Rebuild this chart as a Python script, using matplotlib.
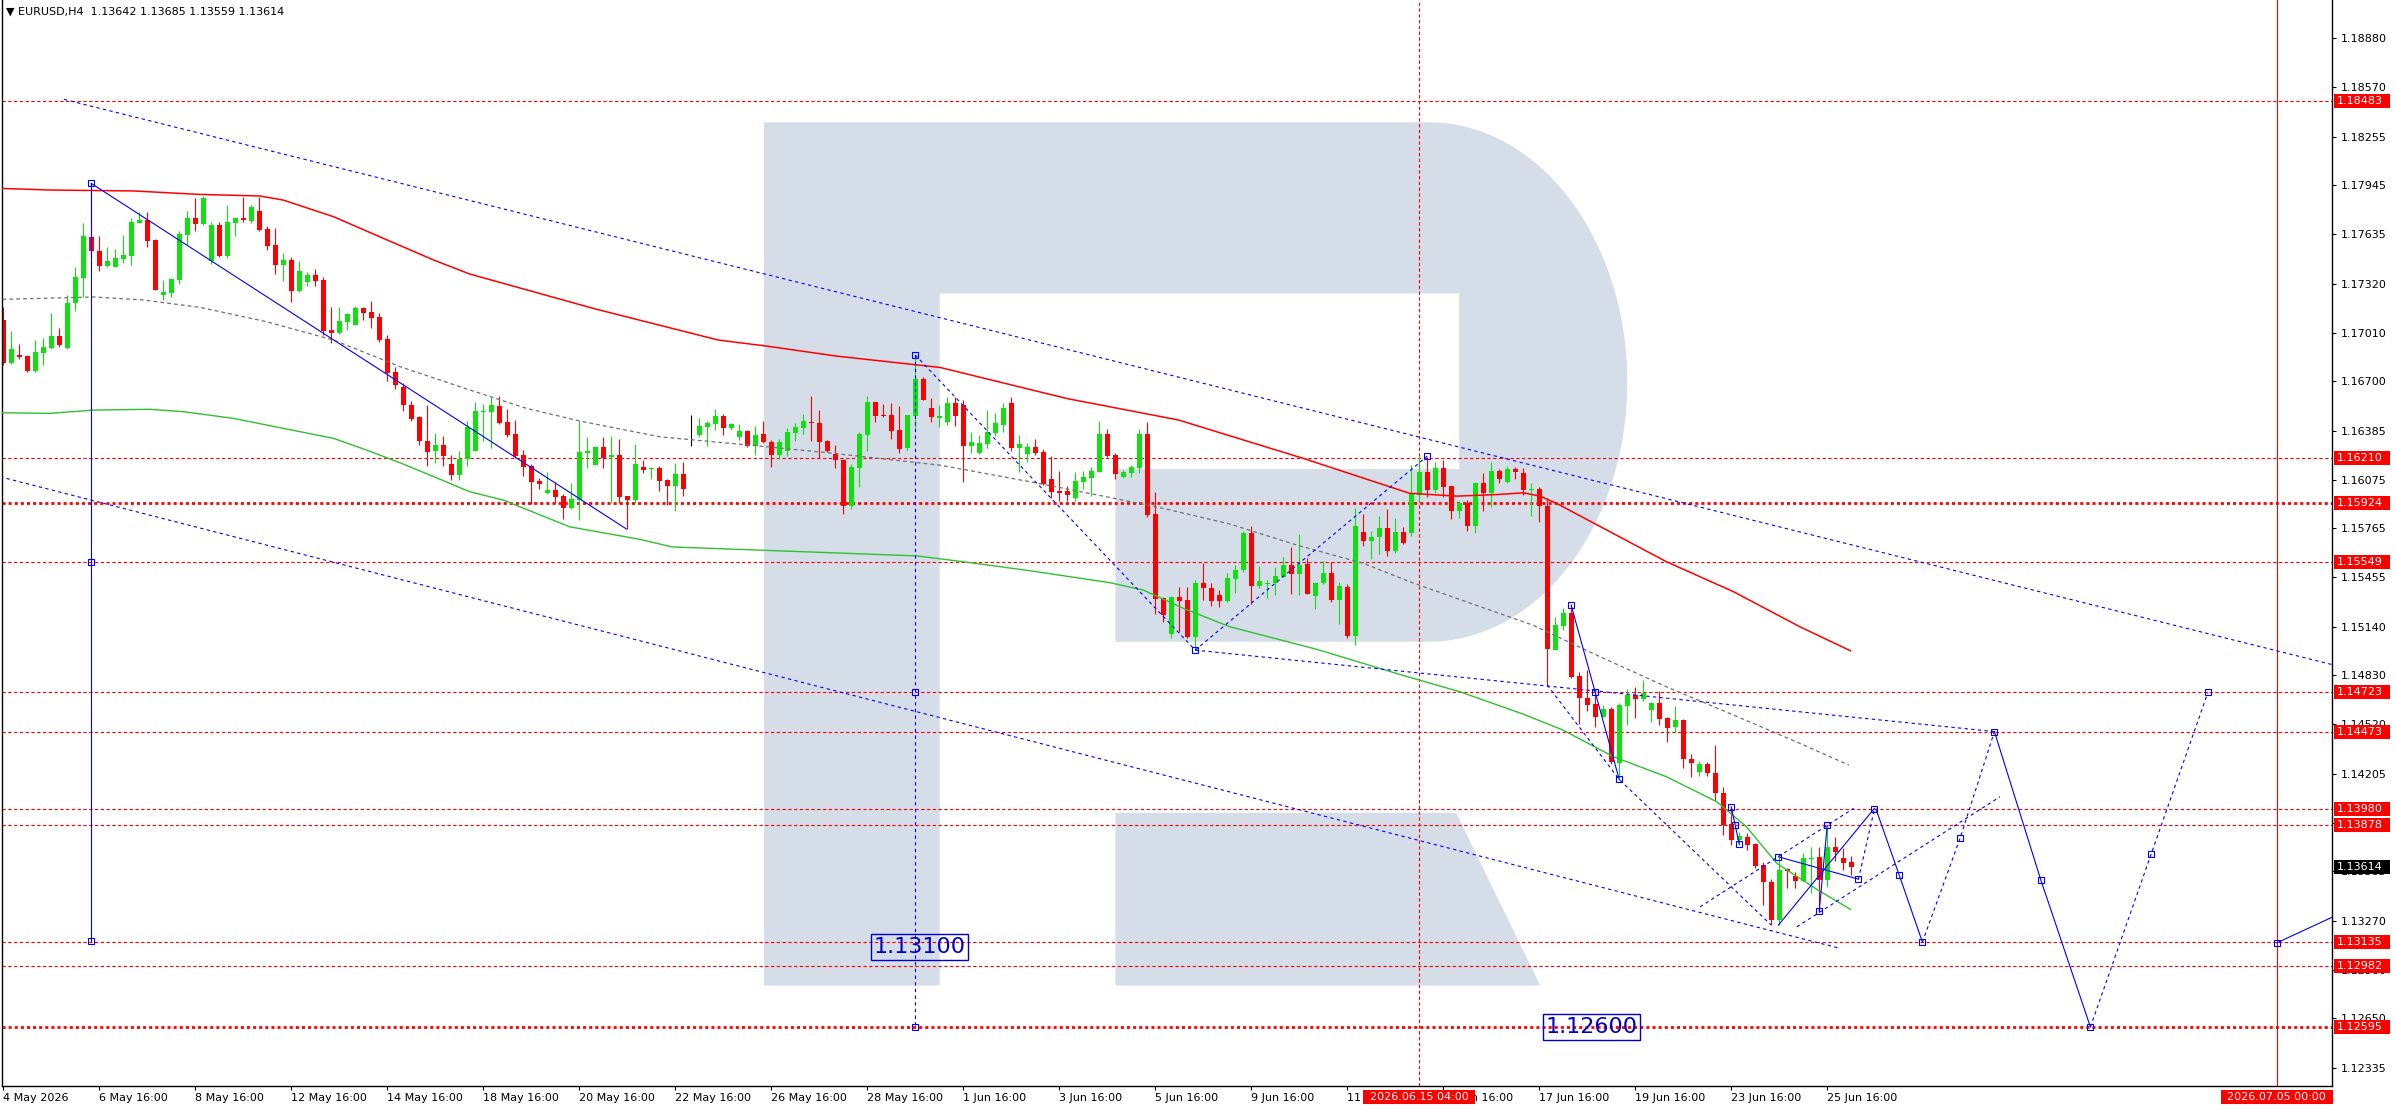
import matplotlib
matplotlib.use('Agg')
import matplotlib.pyplot as plt
import matplotlib.transforms as mtransforms
from matplotlib.patches import Rectangle, Polygon
import numpy as np

plt.rcParams['font.family'] = ['DejaVu Sans']

# EURUSD H4 candles, bar index 0 = 4 May 2026 00:00, first visible bar = 4
first_bar = 4
opens = [1.17089, 1.16818, 1.16867, 1.16861, 1.16767, 1.16882, 1.16914, 1.16988, 1.16914, 1.17195,
         1.17359, 1.17615, 1.17528, 1.17435, 1.17428, 1.17477, 1.17496, 1.17708, 1.17725, 1.17598,
         1.17250, 1.17263, 1.17346, 1.17632, 1.17736, 1.17702, 1.17467, 1.17693, 1.17498, 1.17708,
         1.17736, 1.17721, 1.17780, 1.17666, 1.17564, 1.17441, 1.17471, 1.17276, 1.17333, 1.17373,
         1.17344, 1.17024, 1.17005, 1.17079, 1.17058, 1.17166, 1.17138, 1.17106, 1.16969, 1.16757,
         1.16661, 1.16547, 1.16471, 1.16322, 1.16257, 1.16293, 1.16172, 1.16106, 1.16204, 1.16259,
         1.16504, 1.16506, 1.16542, 1.16441, 1.16364, 1.16229, 1.16163, 1.16066, 1.15992, 1.16008,
         1.15970, 1.15896, 1.15945, 1.16246, 1.16167, 1.16280, 1.16216, 1.16231, 1.15970, 1.15945,
         1.16155, 1.16140, 1.16148, 1.16072, 1.16036, 1.16110, 1.16360, 1.16358, 1.16407, 1.16428,
         1.16479, 1.16403, 1.16345, 1.16384, 1.16288, 1.16364, 1.16316, 1.16231, 1.16258, 1.16369,
         1.16405, 1.16441, 1.16434, 1.16320, 1.16237, 1.16199, 1.15909, 1.16150, 1.16358, 1.16568,
         1.16485, 1.16485, 1.16390, 1.16278, 1.16481, 1.16714, 1.16528, 1.16466, 1.16440, 1.16560,
         1.16550, 1.16290, 1.16244, 1.16303, 1.16371, 1.16422, 1.16560, 1.16278, 1.16239, 1.16280,
         1.16250, 1.16076, 1.16002, 1.16002, 1.15960, 1.16061, 1.16087, 1.16125, 1.16364, 1.16231,
         1.16093, 1.16119, 1.16150, 1.16364, 1.15856, 1.15324, 1.15091, 1.15326, 1.15309, 1.15076,
         1.15415, 1.15383, 1.15341, 1.15305, 1.15445, 1.15500, 1.15733, 1.15400, 1.15409, 1.15415,
         1.15458, 1.15532, 1.15477, 1.15538, 1.15337, 1.15417, 1.15479, 1.15309, 1.15394, 1.15083,
         1.15739, 1.15686, 1.15708, 1.15767, 1.15621, 1.15739, 1.15737, 1.15976, 1.16123, 1.16008,
         1.16148, 1.16034, 1.15877, 1.15928, 1.15781, 1.16055, 1.15987, 1.16129, 1.16059, 1.16142,
         1.16118, 1.16008, 1.16014, 1.15909, 1.14991, 1.15146, 1.15228, 1.14826, 1.14688, 1.14646,
         1.14567, 1.14614, 1.14275, 1.14637, 1.14703, 1.14680, 1.14610, 1.14658, 1.14557, 1.14504,
         1.14544, 1.14302, 1.14218, 1.14266, 1.14211, 1.14080, 1.13885, 1.13787, 1.13800, 1.13758,
         1.13624, 1.13518, 1.13275, 1.13597, 1.13554, 1.13523, 1.13665, 1.13677, 1.13529, 1.13741,
         1.13671, 1.13642]
highs = [1.17174, 1.17017, 1.16937, 1.16867, 1.16962, 1.16975, 1.17132, 1.17039, 1.17246, 1.17426,
         1.17708, 1.17958, 1.17623, 1.17551, 1.17541, 1.17630, 1.17738, 1.17774, 1.17774, 1.17604,
         1.17344, 1.17359, 1.17655, 1.17782, 1.17865, 1.17880, 1.17715, 1.17710, 1.17820, 1.17746,
         1.17873, 1.17820, 1.17873, 1.17687, 1.17672, 1.17513, 1.17492, 1.17465, 1.17397, 1.17416,
         1.17365, 1.17174, 1.17172, 1.17136, 1.17178, 1.17174, 1.17210, 1.17132, 1.16994, 1.16793,
         1.16687, 1.16572, 1.16479, 1.16547, 1.16369, 1.16350, 1.16231, 1.16257, 1.16445, 1.16568,
         1.16555, 1.16598, 1.16606, 1.16523, 1.16453, 1.16263, 1.16172, 1.16083, 1.16121, 1.16061,
         1.15983, 1.16051, 1.16447, 1.16347, 1.16288, 1.16343, 1.16350, 1.16331, 1.15970, 1.16299,
         1.16199, 1.16157, 1.16163, 1.16078, 1.16180, 1.16184, 1.16483, 1.16464, 1.16447, 1.16523,
         1.16494, 1.16434, 1.16428, 1.16390, 1.16415, 1.16449, 1.16326, 1.16331, 1.16403, 1.16432,
         1.16492, 1.16606, 1.16517, 1.16328, 1.16292, 1.16206, 1.16174, 1.16379, 1.16604, 1.16568,
         1.16555, 1.16559, 1.16542, 1.16485, 1.16867, 1.16729, 1.16591, 1.16549, 1.16600, 1.16600,
         1.16580, 1.16377, 1.16356, 1.16517, 1.16500, 1.16560, 1.16600, 1.16356, 1.16309, 1.16335,
         1.16269, 1.16227, 1.16129, 1.16036, 1.16125, 1.16131, 1.16153, 1.16447, 1.16394, 1.16242,
         1.16136, 1.16167, 1.16396, 1.16443, 1.15998, 1.15330, 1.15337, 1.15390, 1.15394, 1.15436,
         1.15547, 1.15415, 1.15373, 1.15479, 1.15532, 1.15750, 1.15780, 1.15525, 1.15436, 1.15521,
         1.15581, 1.15644, 1.15727, 1.15574, 1.15426, 1.15555, 1.15549, 1.15426, 1.15411, 1.15892,
         1.15854, 1.15748, 1.15845, 1.15886, 1.15829, 1.15775, 1.16167, 1.16224, 1.16220, 1.16188,
         1.16199, 1.16034, 1.15938, 1.15945, 1.16061, 1.16118, 1.16188, 1.16140, 1.16161, 1.16152,
         1.16146, 1.16051, 1.16025, 1.15955, 1.15203, 1.15256, 1.15283, 1.14853, 1.14864, 1.14726,
         1.14641, 1.14631, 1.14652, 1.14743, 1.14758, 1.14800, 1.14663, 1.14732, 1.14567, 1.14637,
         1.14550, 1.14330, 1.14285, 1.14281, 1.14387, 1.14122, 1.13995, 1.13832, 1.13830, 1.13762,
         1.13645, 1.13533, 1.13677, 1.13607, 1.13578, 1.13703, 1.13737, 1.13737, 1.13868, 1.13800,
         1.13730, 1.13685]
lows = [1.16803, 1.16810, 1.16844, 1.16759, 1.16757, 1.16806, 1.16907, 1.16916, 1.16905, 1.17149,
        1.17236, 1.17492, 1.17403, 1.17424, 1.17424, 1.17454, 1.17439, 1.17704, 1.17556, 1.17282,
        1.17217, 1.17238, 1.17318, 1.17566, 1.17655, 1.17693, 1.17445, 1.17488, 1.17481, 1.17626,
        1.17715, 1.17704, 1.17655, 1.17534, 1.17384, 1.17340, 1.17206, 1.17265, 1.17308, 1.17308,
        1.16996, 1.16945, 1.17003, 1.17028, 1.17058, 1.17092, 1.17041, 1.16952, 1.16704, 1.16653,
        1.16513, 1.16449, 1.16295, 1.16161, 1.16178, 1.16161, 1.16072, 1.16072, 1.16161, 1.16259,
        1.16322, 1.16278, 1.16428, 1.16347, 1.16210, 1.16100, 1.15917, 1.16015, 1.15983, 1.15924,
        1.15826, 1.15888, 1.15818, 1.16150, 1.16167, 1.16150, 1.15924, 1.15924, 1.15758, 1.15924,
        1.16119, 1.16081, 1.16004, 1.15913, 1.15877, 1.15972, 1.16290, 1.16347, 1.16288, 1.16390,
        1.16358, 1.16390, 1.16326, 1.16284, 1.16231, 1.16305, 1.16157, 1.16206, 1.16225, 1.16322,
        1.16364, 1.16322, 1.16210, 1.16252, 1.16150, 1.15854, 1.15886, 1.16030, 1.16258, 1.16443,
        1.16470, 1.16333, 1.16242, 1.16263, 1.16400, 1.16581, 1.16443, 1.16409, 1.16420, 1.16415,
        1.16061, 1.16246, 1.16239, 1.16278, 1.16354, 1.16379, 1.16259, 1.16125, 1.16189, 1.16231,
        1.16040, 1.15955, 1.15938, 1.15938, 1.15941, 1.16015, 1.15970, 1.16125, 1.16216, 1.16076,
        1.16087, 1.16093, 1.16119, 1.15839, 1.15218, 1.15171, 1.15066, 1.15108, 1.15066, 1.14991,
        1.15309, 1.15271, 1.15263, 1.15299, 1.15356, 1.15489, 1.15282, 1.15388, 1.15324, 1.15341,
        1.15453, 1.15345, 1.15341, 1.15345, 1.15250, 1.15411, 1.15299, 1.15157, 1.15066, 1.15023,
        1.15652, 1.15568, 1.15602, 1.15591, 1.15610, 1.15663, 1.15718, 1.15934, 1.15962, 1.15991,
        1.15962, 1.15824, 1.15834, 1.15750, 1.15737, 1.15875, 1.15902, 1.16055, 1.16051, 1.16076,
        1.15974, 1.15845, 1.15803, 1.14769, 1.14991, 1.15118, 1.14811, 1.14521, 1.14605, 1.14504,
        1.14563, 1.14266, 1.14165, 1.14514, 1.14561, 1.14669, 1.14535, 1.14514, 1.14408, 1.14461,
        1.14243, 1.14186, 1.14192, 1.14192, 1.14031, 1.13815, 1.13751, 1.13751, 1.13720, 1.13603,
        1.13370, 1.13243, 1.13243, 1.13480, 1.13476, 1.13518, 1.13444, 1.13328, 1.13487, 1.13652,
        1.13592, 1.13559]
closes = [1.16818, 1.16905, 1.16856, 1.16767, 1.16884, 1.16918, 1.16988, 1.16933, 1.17195, 1.17363,
          1.17623, 1.17526, 1.17435, 1.17465, 1.17481, 1.17501, 1.17712, 1.17725, 1.17594, 1.17282,
          1.17267, 1.17350, 1.17636, 1.17736, 1.17702, 1.17865, 1.17693, 1.17496, 1.17710, 1.17736,
          1.17725, 1.17806, 1.17664, 1.17562, 1.17441, 1.17471, 1.17276, 1.17399, 1.17373, 1.17340,
          1.17017, 1.17009, 1.17081, 1.17128, 1.17166, 1.17134, 1.17104, 1.16962, 1.16753, 1.16678,
          1.16547, 1.16462, 1.16322, 1.16250, 1.16293, 1.16225, 1.16106, 1.16204, 1.16411, 1.16511,
          1.16511, 1.16549, 1.16437, 1.16358, 1.16225, 1.16157, 1.16061, 1.16047, 1.16006, 1.15966,
          1.15896, 1.15949, 1.16250, 1.16256, 1.16282, 1.16214, 1.16231, 1.15966, 1.15945, 1.16174,
          1.16138, 1.16150, 1.16066, 1.16036, 1.16110, 1.16017, 1.16360, 1.16415, 1.16432, 1.16479,
          1.16405, 1.16428, 1.16384, 1.16288, 1.16358, 1.16316, 1.16231, 1.16314, 1.16377, 1.16407,
          1.16447, 1.16432, 1.16316, 1.16258, 1.16199, 1.15909, 1.16155, 1.16364, 1.16568, 1.16481,
          1.16479, 1.16386, 1.16269, 1.16485, 1.16714, 1.16581, 1.16470, 1.16479, 1.16560, 1.16480,
          1.16290, 1.16314, 1.16305, 1.16377, 1.16432, 1.16530, 1.16278, 1.16301, 1.16284, 1.16246,
          1.16044, 1.15998, 1.15992, 1.15979, 1.16066, 1.16091, 1.16129, 1.16364, 1.16227, 1.16108,
          1.16125, 1.16153, 1.16364, 1.15850, 1.15313, 1.15214, 1.15326, 1.15305, 1.15076, 1.15415,
          1.15383, 1.15305, 1.15305, 1.15449, 1.15500, 1.15733, 1.15400, 1.15430, 1.15417, 1.15462,
          1.15532, 1.15477, 1.15532, 1.15349, 1.15417, 1.15479, 1.15309, 1.15398, 1.15083, 1.15780,
          1.15686, 1.15710, 1.15767, 1.15623, 1.15739, 1.15674, 1.15983, 1.16123, 1.16008, 1.16148,
          1.16029, 1.15877, 1.15928, 1.15781, 1.16055, 1.15987, 1.16129, 1.16082, 1.16142, 1.16121,
          1.16012, 1.16014, 1.15909, 1.14997, 1.15150, 1.15228, 1.14817, 1.14688, 1.14641, 1.14567,
          1.14614, 1.14281, 1.14641, 1.14703, 1.14682, 1.14716, 1.14658, 1.14555, 1.14497, 1.14544,
          1.14302, 1.14271, 1.14266, 1.14207, 1.14080, 1.13879, 1.13783, 1.13809, 1.13751, 1.13618,
          1.13518, 1.13275, 1.13592, 1.13588, 1.13523, 1.13671, 1.13671, 1.13529, 1.13737, 1.13705,
          1.13639, 1.13614]

# time axis labels (bar index of each label)
tick_bars = [4, 16, 28, 40, 52, 64, 76, 88, 100, 112, 124, 136, 148, 160, 172, 184, 196, 208, 220, 232]
tick_labels = ['4 May 2026', '6 May 16:00', '8 May 16:00', '12 May 16:00', '14 May 16:00',
               '18 May 16:00', '20 May 16:00', '22 May 16:00', '26 May 16:00', '28 May 16:00',
               '1 Jun 16:00', '3 Jun 16:00', '5 Jun 16:00', '9 Jun 16:00', '11 Jun 16:00',
               '15 Jun 16:00', '17 Jun 16:00', '19 Jun 16:00', '23 Jun 16:00', '25 Jun 16:00']
price_ticks = [1.18880, 1.18570, 1.18255, 1.17945, 1.17635, 1.17320, 1.17010, 1.16700, 1.16385,
               1.16075, 1.15765, 1.15455, 1.15140, 1.14830, 1.14520, 1.14205, 1.13895, 1.13585,
               1.13270, 1.12960, 1.12650, 1.12335]

# horizontal levels
levels = [1.18483, 1.16210, 1.15924, 1.15549, 1.14723, 1.14473, 1.13980, 1.13878, 1.13135, 1.12982, 1.12595]
thick_levels = [1.15924, 1.12595]
last_price = 1.13614

# moving averages (vertices)
red_ma_bars = [3.9, 9.8, 20.3, 28.6, 36.1, 39.0, 45.3, 51.5, 57.8, 62.3, 78.0, 93.4, 99.4, 108.2,
               121.1, 137.0, 150.9, 166.5, 179.8, 185.7, 191.1, 194.0, 196.1, 198.2, 211.9, 220.3,
               228.6, 234.9]
red_ma_vals = [1.17926, 1.17916, 1.17910, 1.17888, 1.17878, 1.17852, 1.17746, 1.17609, 1.17471,
               1.17382, 1.17160, 1.16962, 1.16924, 1.16860, 1.16788, 1.16590, 1.16454, 1.16210,
               1.15988, 1.15970, 1.15981, 1.15991, 1.15970, 1.15923, 1.15553, 1.15362, 1.15139,
               1.14987]
green_ma_bars = [3.9, 9.8, 15.3, 22.3, 26.5, 32.8, 39.0, 45.3, 49.4, 53.6, 57.8, 62.3, 66.5, 74.8,
                 83.6, 87.6, 118.2, 124.0, 132.3, 142.3, 146.5, 151.5, 157.3, 168.2, 178.6, 186.1,
                 194.0, 199.0, 205.3, 211.9, 218.2, 221.9, 225.7, 230.7, 234.9]
green_ma_vals = [1.16500, 1.16496, 1.16517, 1.16522, 1.16507, 1.16464, 1.16401, 1.16337, 1.16263,
                 1.16182, 1.16094, 1.15998, 1.15945, 1.15775, 1.15695, 1.15647, 1.15590, 1.15553,
                 1.15496, 1.15420, 1.15373, 1.15257, 1.15140, 1.14996, 1.14836, 1.14726, 1.14584,
                 1.14482, 1.14313, 1.14186, 1.14027, 1.13868, 1.13635, 1.13470, 1.13343]
grey_ma_bars = [3.9, 15.3, 21.5, 28.6, 36.9, 45.3, 53.6, 62.3, 69.4, 76.1, 86.1, 98.6, 107.0, 121.1,
                132.3, 142.3, 149.0, 157.3, 165.7, 174.0, 179.8, 186.9, 195.2, 203.6, 211.9, 220.3,
                228.6, 234.7]
grey_ma_vals = [1.17221, 1.17236, 1.17217, 1.17170, 1.17079, 1.16962, 1.16793, 1.16645, 1.16528,
                1.16447, 1.16347, 1.16288, 1.16246, 1.16167, 1.16062, 1.15962, 1.15892, 1.15793,
                1.15659, 1.15543, 1.15426, 1.15298, 1.15150, 1.14949, 1.14758, 1.14578, 1.14398,
                1.14260]

# drawn objects: (bar, price) vertices
solid_lines = [
    [(15, 1.17958), (81.9, 1.15761)],
    [(15, 1.17958), (15, 1.13141)],
    [(200, 1.15275), (203, 1.14722), (206, 1.14169)],
    [(220, 1.13995), (220.5, 1.13877), (221, 1.13758)],
    [(225.9, 1.13677), (235.9, 1.13535)],
    [(225.9, 1.13243), (237.9, 1.13985)],
    [(231, 1.13332), (232, 1.13877)],
    [(238.1, 1.13980), (241, 1.13561), (243.9, 1.13135)],
    [(252.9, 1.14473), (258.7, 1.13530), (264.9, 1.12595)],
    [(288.2, 1.13130), (295.2, 1.13295)],
]
dotted_lines = [
    [(11.6, 1.18492), (295.2, 1.14898)],
    [(3.6, 1.16093), (233.6, 1.13095)],
    [(118, 1.16867), (118, 1.12595)],
    [(118, 1.16867), (153, 1.14991), (182, 1.16224)],
    [(153, 1.14991), (252.9, 1.14473)],
    [(197, 1.14769), (206, 1.14169), (225, 1.13243)],
    [(216.1, 1.13359), (235.3, 1.13985)],
    [(228.2, 1.13232), (253.6, 1.14059)],
    [(235.9, 1.13535), (237.9, 1.13980)],
    [(243.9, 1.13135), (248.6, 1.13794), (252.9, 1.14473)],
    [(264.9, 1.12595), (272.5, 1.13695), (279.6, 1.14723)],
]
anchors = [(15, 1.17958), (15, 1.15551), (15, 1.13141), (118, 1.16867), (118, 1.14724), (118, 1.12595),
           (153, 1.14991), (182, 1.16224), (200, 1.15275), (203, 1.14722), (206, 1.14169),
           (220, 1.13995), (220.5, 1.13877), (221, 1.13758), (225.9, 1.13677), (235.9, 1.13535),
           (231, 1.13332), (232, 1.13877), (237.9, 1.13980), (241, 1.13561), (243.9, 1.13135),
           (248.6, 1.13794), (252.9, 1.14473), (258.7, 1.13530), (264.9, 1.12595),
           (272.5, 1.13695), (279.6, 1.14723), (288.2, 1.13130)]
target_labels = [(118.5, 1.13104, '1.13100'), (202.5, 1.12595, '1.12600')]
vlines_dates = [(181, '2026.06.15 04:00', '--'), (288.2, '2026.07.05 00:00', '-')]

# ---------------------------------------------------------------
W, H = 2396, 1110
fig = plt.figure(figsize=(W / 100, H / 100), dpi=100)
ax = fig.add_axes([2 / W, (H - 1086) / H, (2332 - 2) / W, 1086 / H])
ax.set_xlim(3.84, 295.1)
ax.set_ylim(1.12220, 1.19124)

# watermark "R" (image pixel coords, y down)
px = mtransforms.Affine2D().scale(1, -1).translate(0, H)
s = 1.528
t = np.linspace(-np.pi / 2, np.pi / 2, 60)
arc = [(935 + 130 * np.cos(a), 250 + 170 * np.sin(a)) for a in t]
upper = [(500, 645), (500, 80), (930, 80)] + arc + [(730, 420), (730, 307), (955, 307),
                                                   (955, 192), (615, 192), (615, 645)]
leg = [(730, 532), (953, 532), (1008, 645), (730, 645)]
for shape in (upper, leg):
    ax.add_patch(Polygon([(x * s, y * s) for x, y in shape], closed=True, transform=px,
                         fc='#D5DDE8', ec='none', zorder=0.5))

# levels
for lv in levels:
    if lv in thick_levels:
        ax.axhline(lv, color='#FF0000', lw=2.0, ls=(0, (1.1, 1.1)), zorder=1)
    else:
        ax.axhline(lv, color='#FF0000', lw=0.8, ls=(0, (3, 2.2)), zorder=1)
for xb, txt, st in vlines_dates:
    ax.axvline(xb, color='#FF0000', lw=0.8, ls=(0, (3, 2.2)) if st == '--' else '-', zorder=1)

# candles
bars = np.arange(first_bar, first_bar + len(opens))
o, h, l, c = map(np.array, (opens, highs, lows, closes))
cols = np.where(c > o, '#10E010', np.where(c < o, '#FF0000', '#000000'))
ax.vlines(bars, l, h, colors=cols, lw=0.8, zorder=2)
body = np.maximum(np.abs(c - o), 0.00001)
ax.bar(bars, body, bottom=np.minimum(o, c), width=0.6, color=cols, linewidth=0, zorder=2.1)

# moving averages
ax.plot(red_ma_bars, red_ma_vals, color='#FF0000', lw=1.1, zorder=3)
ax.plot(green_ma_bars, green_ma_vals, color='#30C030', lw=1.0, zorder=3)
ax.plot(grey_ma_bars, grey_ma_vals, color='#707070', lw=0.9, ls=(0, (3, 2.5)), zorder=3)

# objects
for ln in solid_lines:
    xs, ys = zip(*ln)
    ax.plot(xs, ys, color='#0000FF', lw=0.8, zorder=4)
for ln in dotted_lines:
    xs, ys = zip(*ln)
    ax.plot(xs, ys, color='#0000FF', lw=0.8, ls=(0, (3, 3)), zorder=4)
xs, ys = zip(*anchors)
ax.plot(xs, ys, ls='none', marker='s', ms=4.2, mfc='none', mec='#0000FF', mew=0.8, zorder=4.5)
for xb, yv, txt in target_labels:
    ax.text(xb, yv, txt, ha='center', va='center', fontsize=16, color='#0000C8', zorder=5,
            bbox=dict(boxstyle='square,pad=0.12', fc='none', ec='#0000C8', lw=1.0))

# axes styling
for side in ('top',):
    ax.spines[side].set_visible(False)
for side in ('left', 'right', 'bottom'):
    ax.spines[side].set_linewidth(1.0)
ax.yaxis.tick_right()
ax.set_yticks(price_ticks)
ax.set_yticklabels(['%.5f' % v for v in price_ticks])
ax.tick_params(axis='y', length=3, width=0.8, pad=3, labelsize=8)
ax.set_xticks(tick_bars)
ax.set_xticklabels(tick_labels, ha='left')
ax.tick_params(axis='x', length=3, width=0.8, pad=2, labelsize=8)

# price boxes on the right axis
ident = mtransforms.IdentityTransform()
for lv in levels + [last_price]:
    _, py = ax.transData.transform((0, lv))
    fc = '#000000' if lv == last_price else '#FF0000'
    fig.add_artist(Rectangle((2334, py - 7), 56, 14, transform=ident, fc=fc, ec='none', zorder=5))
    fig.text(2337 / W, py / H, '%.5f' % lv, color='white', fontsize=8, va='center', ha='left', zorder=6)

# date boxes on the time axis
for xb, txt, st in vlines_dates:
    pxx, _ = ax.transData.transform((xb, 0))
    fig.add_artist(Rectangle((pxx - 56, 6), 112, 14, transform=ident, fc='#FF0000', ec='none', zorder=5))
    fig.text(pxx / W, 13 / H, txt, color='white', fontsize=8, va='center', ha='center', zorder=6)

fig.text(6 / W, (H - 12) / H, '\u25BC EURUSD,H4  1.13642 1.13685 1.13559 1.13614',
         fontsize=8, va='center', ha='left')

fig.savefig('out.png', dpi=100)
